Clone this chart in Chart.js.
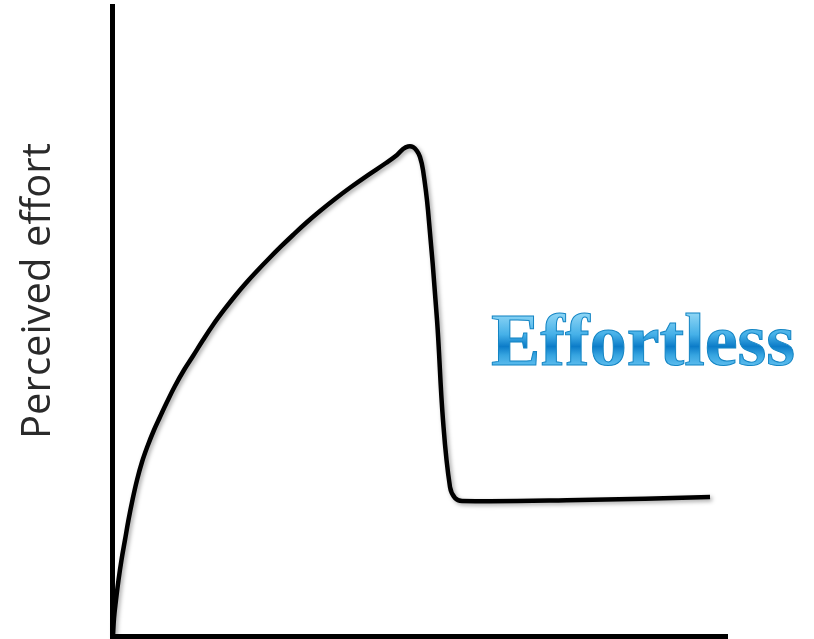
<!DOCTYPE html>
<html>
<head>
<meta charset="utf-8">
<script src="https://cdn.jsdelivr.net/npm/chart.js@4/dist/chart.umd.min.js"></script>
<style>
  html, body { margin: 0; padding: 0; background: #fff; }
  #effortChart { display: block; }
</style>
</head>
<body>
<canvas id="effortChart" width="814" height="639"></canvas>
<script>
// curve (axis units 0..100)
const effortX = [0.16, 0.33, 0.65, 1.06, 1.54, 2.11, 2.68, 3.33, 4.07, 4.88, 5.85, 6.83, 7.80, 8.94, 10.24, 11.71, 13.17, 14.80, 16.42, 18.21, 20.00, 21.79, 23.58, 25.45, 27.40, 29.43, 31.54, 33.82, 36.26, 38.86, 41.63, 44.55, 46.34, 47.32, 48.13, 48.94, 49.59, 50.08, 50.57, 51.38, 52.85, 53.82, 54.96, 55.77, 56.91, 76.10, 97.24];
const effortY = [0, 2.86, 5.71, 8.89, 12.06, 15.24, 18.41, 21.59, 24.76, 27.62, 30.32, 32.70, 34.76, 37.14, 39.68, 42.22, 44.44, 46.98, 49.37, 51.75, 53.97, 56.03, 57.94, 59.84, 61.75, 63.65, 65.56, 67.46, 69.37, 71.27, 73.17, 75.08, 76.35, 77.30, 77.70, 77.62, 76.98, 76.03, 73.97, 67.62, 50.16, 34.29, 23.65, 21.90, 21.43, 21.59, 22.06];
const yAxisTitle = 'Perceived effort';
const noteLabel = 'Effortless';

document.addEventListener("DOMContentLoaded", function () {
    const ctx = document.getElementById('effortChart').getContext('2d');

    // sombra suave bajo la curva
    const curveShadow = {
        id: 'curveShadow',
        beforeDatasetDraw(chart) {
            const c = chart.ctx;
            c.save();
            c.shadowColor = 'rgba(0,0,0,0.35)';
            c.shadowBlur = 4;
            c.shadowOffsetX = 2;
            c.shadowOffsetY = 2;
        },
        afterDatasetDraw(chart) {
            chart.ctx.restore();
        }
    };

    // textos: etiqueta del eje y la palabra "Effortless"
    const labels = {
        id: 'labels',
        afterDraw(chart) {
            const c = chart.ctx;
            c.save();
            c.translate(39, 291);
            c.rotate(-Math.PI / 2);
            c.font = '400 40px "Open Sans", "Noto Sans", sans-serif';
            c.fillStyle = '#2a2a2a';
            c.textAlign = 'center';
            c.textBaseline = 'middle';
            c.fillText(yAxisTitle, 0, 0);
            c.restore();

            c.save();
            c.font = 'bold 74px "Liberation Serif", "Times New Roman", serif';
            c.textAlign = 'left';
            c.textBaseline = 'alphabetic';
            const g = c.createLinearGradient(0, 313, 0, 367);
            g.addColorStop(0, '#8fd6f5');
            g.addColorStop(0.4, '#45b0e8');
            g.addColorStop(0.62, '#0c7cc8');
            g.addColorStop(0.78, '#36a4e0');
            g.addColorStop(1, '#62c0f0');
            c.fillStyle = g;
            c.fillText(noteLabel, 491, 365);
            c.lineWidth = 1;
            c.strokeStyle = '#1485c4';
            c.strokeText(noteLabel, 491, 365);
            c.restore();
        }
    };

    new Chart(ctx, {
        type: 'line',
        data: {
            datasets: [{
                data: effortX.map((x, i) => ({ x: x, y: effortY[i] })),
                borderColor: '#000',
                borderWidth: 4.5,
                pointRadius: 0,
                fill: false,
                tension: 0.4,
                clip: false
            }]
        },
        options: {
            responsive: false,
            animation: false,
            layout: {
                padding: { left: 112, right: 87, top: 6, bottom: 3 }
            },
            plugins: {
                legend: { display: false },
                tooltip: { enabled: false }
            },
            scales: {
                x: {
                    type: 'linear',
                    min: 0,
                    max: 100,
                    grid: { display: false, drawTicks: false },
                    ticks: { display: false },
                    border: { display: true, color: '#000', width: 5 }
                },
                y: {
                    min: 0,
                    max: 100,
                    grid: { display: false, drawTicks: false },
                    ticks: { display: false },
                    border: { display: true, color: '#000', width: 5 }
                }
            }
        },
        plugins: [curveShadow, labels]
    });
});
</script>
</body>
</html>
